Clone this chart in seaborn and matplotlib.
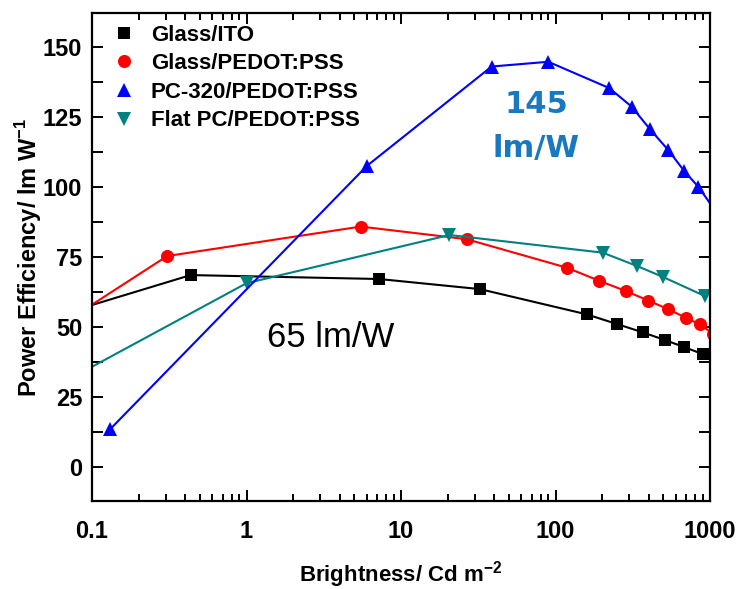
import matplotlib
matplotlib.use('Agg')
import matplotlib.pyplot as plt
import seaborn as sns
from matplotlib.lines import Line2D
from matplotlib.ticker import MultipleLocator, FixedLocator, FixedFormatter, LogLocator, NullFormatter

# ---------------- data ----------------
ito_x = [0.08, 0.435, 7.2, 32.4, 159, 251, 366, 512, 682, 897]
ito_y = [56.2, 68.5, 67.1, 63.5, 54.5, 51.0, 48.1, 45.3, 42.8, 40.3]

pedot_x = [0.08, 0.307, 5.48, 26.6, 119, 191, 285, 399, 537, 696, 861, 1050]
pedot_y = [54.5, 75.3, 85.8, 81.3, 71.1, 66.5, 62.8, 59.4, 56.3, 53.3, 50.9, 47.5]

pc320_x = [0.131, 6.0, 38.6, 89.8, 223, 311, 409, 537, 679, 840, 1150]
pc320_y = [13.5, 107.4, 142.9, 144.6, 135.2, 128.6, 120.5, 113.1, 105.7, 100.0, 89.4]

flat_x = [0.08, 1.0, 20.6, 202, 335, 493, 927]
flat_y = [32.9, 65.6, 82.8, 76.5, 71.8, 67.9, 61.0]

labels = ['Glass/ITO', 'Glass/PEDOT:PSS', 'PC-320/PEDOT:PSS', 'Flat PC/PEDOT:PSS']
x_ticks = [0.1, 1, 10, 100, 1000]
x_tick_labels = ['0.1', '1', '10', '100', '1000']
y_ticks = [0, 25, 50, 75, 100, 125, 150]

# ---------------- style ----------------
sns.set_theme(style='ticks')
plt.rcParams['font.family'] = ['Liberation Sans', 'DejaVu Sans']
plt.rcParams['mathtext.fontset'] = 'custom'
plt.rcParams['mathtext.rm'] = 'Liberation Sans'
plt.rcParams['mathtext.bf'] = 'Liberation Sans:bold'
for k in ['text.color', 'axes.labelcolor', 'xtick.color', 'ytick.color', 'axes.edgecolor']:
    plt.rcParams[k] = 'black'

fig = plt.figure(figsize=(7.37, 5.89), dpi=100)
ax = fig.add_axes([92/737, 1-501/589, (710-92)/737, (501-13)/589])

series = [
    (ito_x, ito_y, 's', 8.6, 'black'),
    (pedot_x, pedot_y, 'o', 9.4, '#ff0000'),
    (flat_x, flat_y, 'v', 9.6, '#008080'),
    (pc320_x, pc320_y, '^', 9.6, '#0000ff'),
]
for xs, ys, mk, ms, col in series:
    sns.lineplot(x=xs, y=ys, ax=ax, color=col, linewidth=1.5, marker=mk,
                 markersize=ms, markeredgecolor=col, markeredgewidth=0,
                 legend=False, sort=False)

ax.set_xscale('log')
ax.set_xlim(0.1, 1000)
ax.set_ylim(-12.1, 162)

ax.xaxis.set_major_locator(FixedLocator(x_ticks))
ax.xaxis.set_major_formatter(FixedFormatter(x_tick_labels))
ax.xaxis.set_minor_locator(LogLocator(base=10, subs=range(2, 10), numticks=20))
ax.xaxis.set_minor_formatter(NullFormatter())
ax.yaxis.set_major_locator(FixedLocator(y_ticks))
ax.yaxis.set_minor_locator(MultipleLocator(12.5))

for sp in ax.spines.values():
    sp.set_linewidth(1.6)
    sp.set_color('black')

ax.tick_params(which='both', direction='in', top=True, right=True, width=1.4, color='black')
ax.tick_params(axis='x', which='major', length=8, pad=14, labelsize=17)
ax.tick_params(axis='x', which='minor', length=5)
ax.tick_params(axis='y', which='both', length=8, pad=7, labelsize=17)
for lab in ax.get_xticklabels() + ax.get_yticklabels():
    lab.set_fontweight('bold')

ax.set_xlabel('Brightness/ Cd m$^{\\mathbf{-2}}$', fontsize=16, fontweight='bold', labelpad=11)
ax.set_ylabel('Power Efficiency/ lm W$^{\\mathbf{-1}}$', fontsize=17, fontweight='bold', labelpad=-1)

handles = [Line2D([], [], linestyle='none', marker=mk, markersize=ms, color=col,
                  markeredgewidth=0)
           for (_, _, mk, ms, col) in [series[0], series[1], series[3], series[2]]]
leg = ax.legend(handles, labels, loc='upper left', bbox_to_anchor=(0.034, 0.976),
                frameon=False, handlelength=1.0, handletextpad=0.7, labelspacing=0.34,
                borderaxespad=0, borderpad=0, prop={'weight': 'bold', 'size': 16})

ax.text(1.36, 42.8, '65 lm/W', fontsize=25, va='baseline', ha='left', color='black')
ax.text(74.8, 129.5, '145', fontsize=22, fontweight='bold', ha='center', va='center',
        color='#1878c0', family='DejaVu Sans')
ax.text(74.8, 113.5, 'lm/W', fontsize=22, fontweight='bold', ha='center', va='center',
        color='#1878c0', family='DejaVu Sans')

fig.savefig('out.png', dpi=100)
